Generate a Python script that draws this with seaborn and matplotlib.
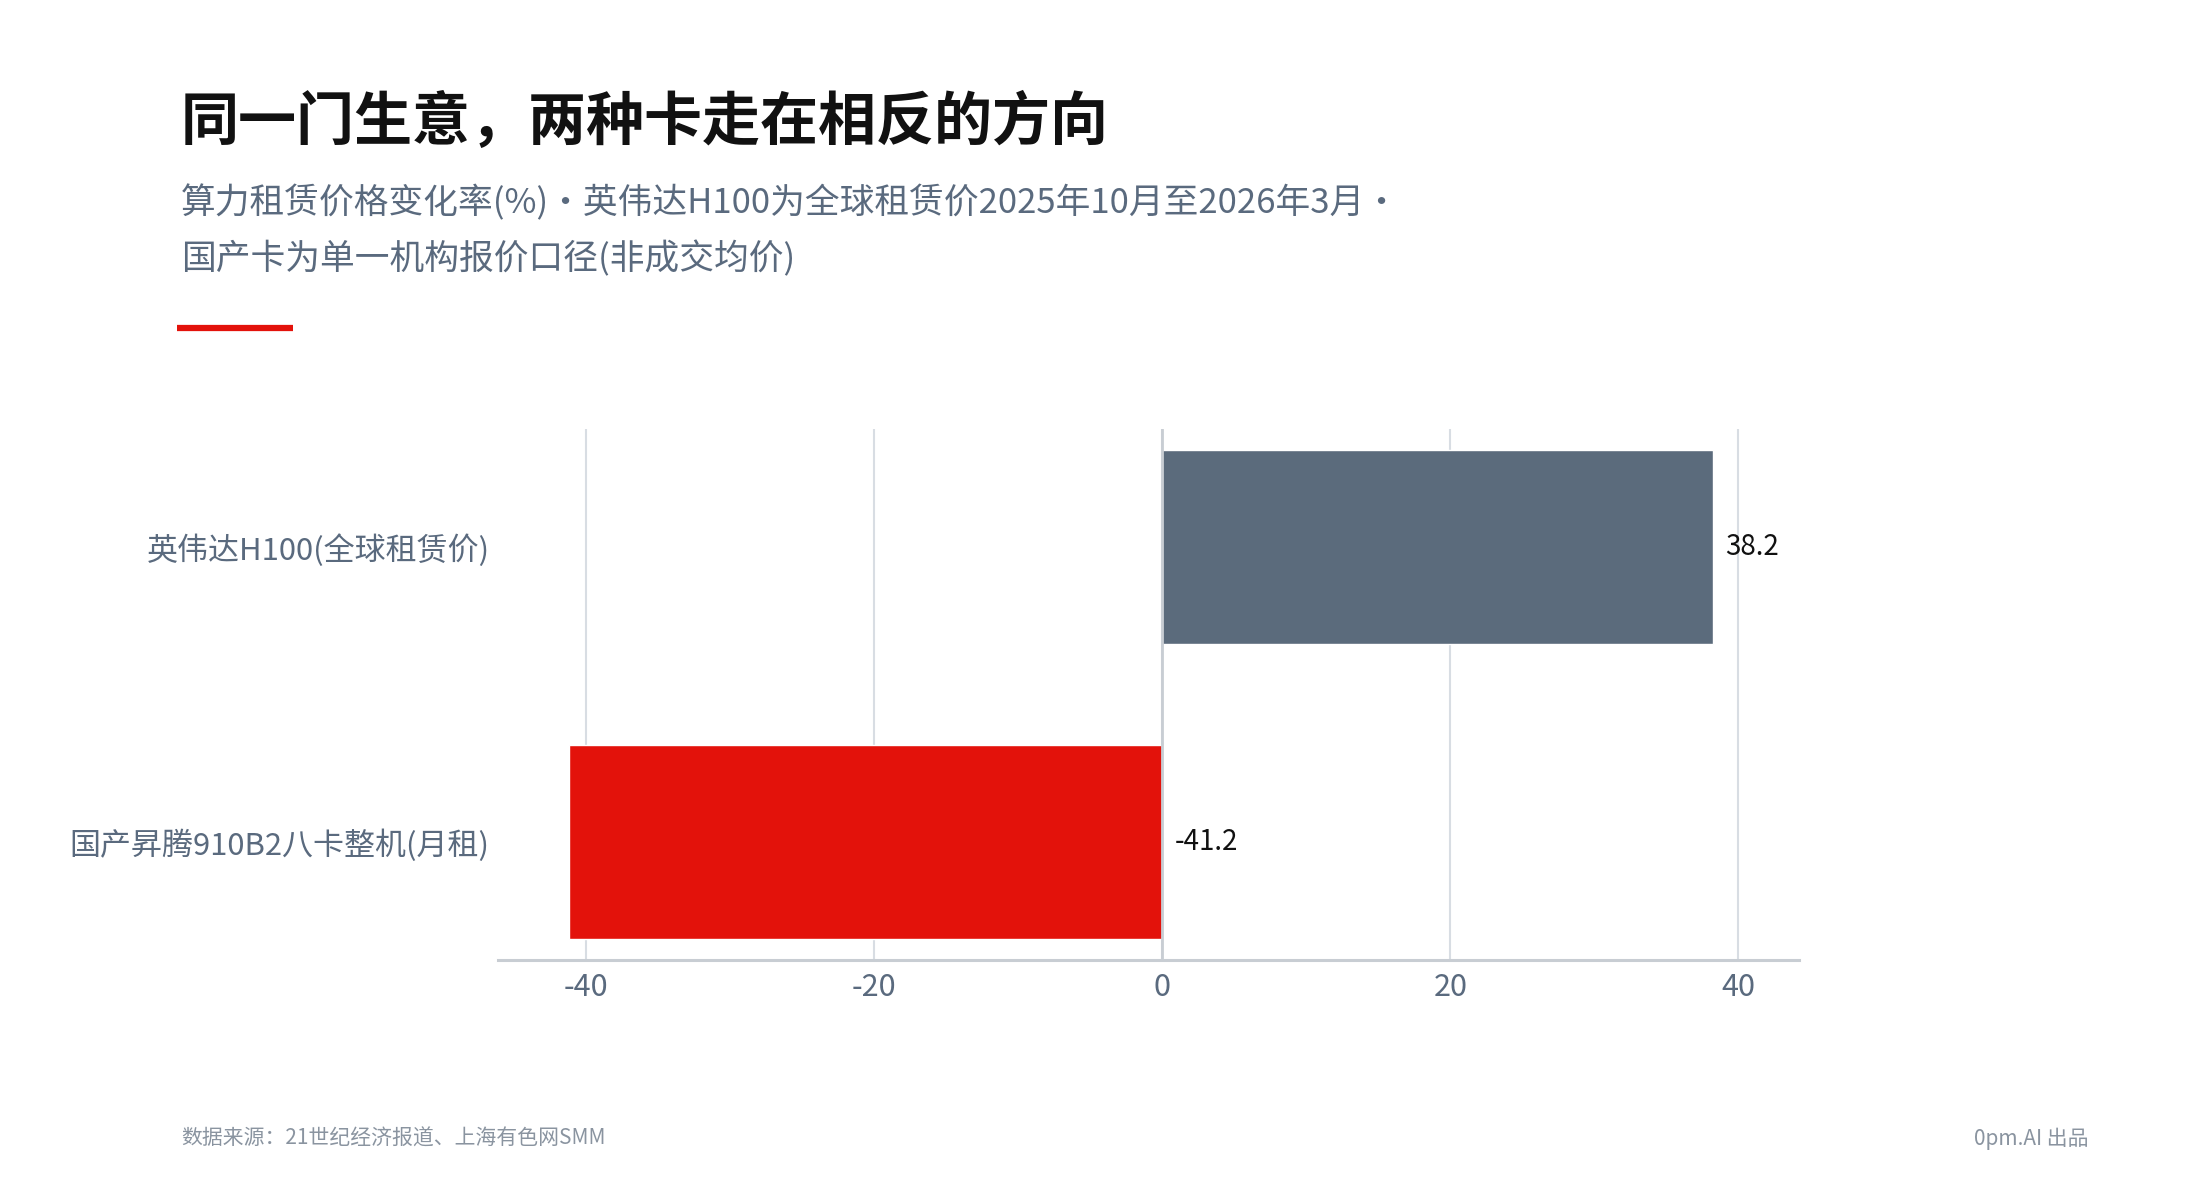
import matplotlib
matplotlib.use("Agg")
import matplotlib.pyplot as plt
import seaborn as sns
import pandas as pd

categories = ["英伟达H100(全球租赁价)", "国产昇腾910B2八卡整机(月租)"]
values = [38.2, -41.2]
bar_colors = ["#5b6b7c", "#e3120b"]
xticks = [-40, -20, 0, 20, 40]

title = "同一门生意，两种卡走在相反的方向"
subtitle1 = "算力租赁价格变化率(%)・英伟达H100为全球租赁价2025年10月至2026年3月・"
subtitle2 = "国产卡为单一机构报价口径(非成交均价)"
source = "数据来源：21世纪经济报道、上海有色网SMM"
credit = "0pm.AI 出品"

sns.set_theme(style="white")
plt.rcParams['font.family'] = ['Noto Sans CJK SC', 'DejaVu Sans']

df = pd.DataFrame({"cat": categories, "val": values})

fig = plt.figure(figsize=(22, 12), dpi=100)
ax = fig.add_axes([0.2264, 0.2, 0.8177 - 0.2264, 0.6425 - 0.2])

sns.barplot(data=df, y="cat", x="val", hue="cat", palette=bar_colors,
            orient="h", width=0.66, ax=ax, legend=False, saturation=1,
            zorder=3)

ax.set_xlim(-46.1, 44.2)
ax.set_ylim(1.4, -0.4)
ax.set_xticks(xticks)
ax.set_xticklabels([str(t) for t in xticks])
ax.set_xlabel("")
ax.set_ylabel("")
ax.grid(axis="x", color="#d8dde3", linewidth=1.5, zorder=0)
ax.grid(axis="y", visible=False)
ax.axvline(0, color="#c8cdd3", linewidth=2, zorder=4)
for s in ["top", "right", "left"]:
    ax.spines[s].set_visible(False)
ax.spines["bottom"].set_color("#c8cdd3")
ax.spines["bottom"].set_linewidth(2.2)
ax.tick_params(axis="x", length=0, pad=9, labelsize=22, labelcolor="#5a6a7e")
ax.tick_params(axis="y", length=0, pad=6, labelsize=22.3, labelcolor="#5a6a7e")

for i, v in enumerate(values):
    ax.annotate(f"{v:.1f}", xy=(max(v, 0), i), xytext=(13, 0),
                textcoords="offset pixels", va="center", ha="left",
                fontsize=20, color="#111111")

fig.text(181 / 2200, 1 - 123 / 1200, title, fontsize=41.8, fontweight="heavy",
         color="#111111", va="center", ha="left")
fig.text(181 / 2200, 1 - 203 / 1200, subtitle1, fontsize=25, color="#5a6a7e",
         va="center", ha="left")
fig.text(181 / 2200, 1 - 259 / 1200, subtitle2, fontsize=25, color="#5a6a7e",
         va="center", ha="left")
fig.add_artist(plt.Line2D([177 / 2200, 293 / 2200], [1 - 328 / 1200, 1 - 328 / 1200],
                          color="#e3120b", linewidth=4.5, solid_capstyle="butt"))
fig.text(181 / 2200, 1 - 1139 / 1200, source, fontsize=15, color="#8a94a0",
         va="center", ha="left")
fig.text(2089 / 2200, 1 - 1139 / 1200, credit, fontsize=15, color="#8a94a0",
         va="center", ha="right")

fig.savefig("out.png", dpi=100, facecolor="white")
